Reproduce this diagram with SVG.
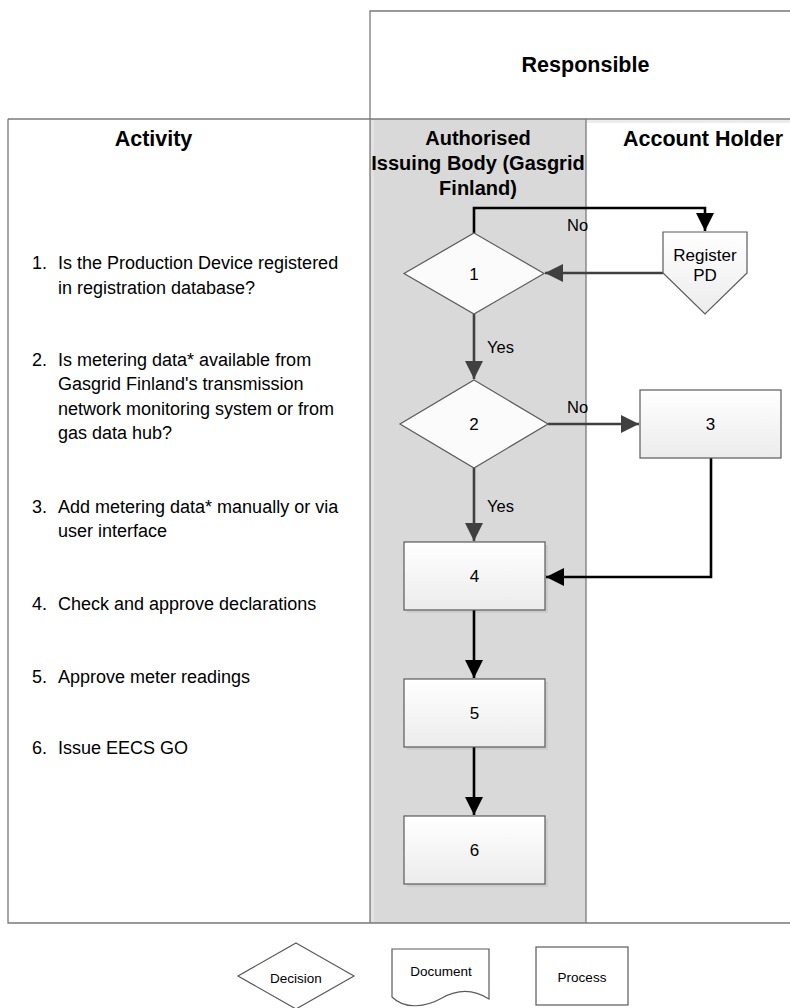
<svg xmlns="http://www.w3.org/2000/svg" width="790" height="1008" viewBox="0 0 790 1008">
<style>
text{font-family:"Liberation Sans",Arial,sans-serif;fill:#000}
.hd{font-size:21.5px;font-weight:bold}
.act{font-size:18px}
.nl{font-size:17px}
.lb{font-size:16.5px}
.lg{font-size:13.5px}
.frame{stroke:#7a7a7a;stroke-width:1.3;fill:none}
.shape{stroke:#5a5a5a;stroke-width:1.2}
.sh{fill:#000;opacity:0.06}
.cb{stroke:#000;stroke-width:2.6;fill:none}
.cg{stroke:#404040;stroke-width:2.6;fill:none}
</style>
<defs>
<linearGradient id="gr" x1="0" y1="0" x2="0" y2="1">
<stop offset="0" stop-color="#ffffff"/>
<stop offset="1" stop-color="#ececec"/>
</linearGradient>
<marker id="ab" viewBox="0 0 18 18" markerWidth="18" markerHeight="18" refX="18" refY="9" orient="auto" markerUnits="userSpaceOnUse">
<path d="M0,0 L18,9 L0,18 Z" fill="#000"/>
</marker>
<marker id="ag" viewBox="0 0 18 18" markerWidth="18" markerHeight="18" refX="18" refY="9" orient="auto" markerUnits="userSpaceOnUse">
<path d="M0,0 L18,9 L0,18 Z" fill="#404040"/>
</marker>
</defs>
<rect width="790" height="1008" fill="#ffffff"/>

<g id="lanes">
<rect x="370" y="119" width="216" height="804" fill="#d9d9d9"/>
<rect x="371" y="120" width="3" height="802" fill="#e3e3e3"/>
<rect x="587" y="120" width="203" height="3" fill="#ececec"/>
<path class="frame" d="M370,923 V11 H790"/>
<path class="frame" d="M8,119 H790"/>
<path class="frame" d="M8,119 V923 H790"/>
<path class="frame" d="M586,119 V923"/>
<text class="hd" x="585.5" y="72" text-anchor="middle">Responsible</text>
<text class="hd" x="153.5" y="146" text-anchor="middle">Activity</text>
<text class="hd" x="703" y="146" text-anchor="middle">Account Holder</text>
<text class="hd" x="478" y="145" text-anchor="middle" style="font-size:20px">Authorised</text>
<text class="hd" x="478" y="170" text-anchor="middle" style="font-size:20px">Issuing Body (Gasgrid</text>
<text class="hd" x="478" y="195" text-anchor="middle" style="font-size:20px">Finland)</text>
</g>

<g id="activities">
<text class="act" x="32" y="269">1.</text>
<text class="act" x="58" y="269">Is the Production Device registered</text>
<text class="act" x="58" y="294">in registration database?</text>
<text class="act" x="32" y="366">2.</text>
<text class="act" x="58" y="366">Is metering data* available from</text>
<text class="act" x="58" y="390">Gasgrid Finland's transmission</text>
<text class="act" x="58" y="415">network monitoring system or from</text>
<text class="act" x="58" y="439">gas data hub?</text>
<text class="act" x="32" y="513">3.</text>
<text class="act" x="58" y="513">Add metering data* manually or via</text>
<text class="act" x="58" y="537">user interface</text>
<text class="act" x="32" y="610">4.</text>
<text class="act" x="58" y="610">Check and approve declarations</text>
<text class="act" x="32" y="683">5.</text>
<text class="act" x="58" y="683">Approve meter readings</text>
<text class="act" x="32" y="754">6.</text>
<text class="act" x="58" y="754">Issue EECS GO</text>
</g>

<g id="connectors">
<path class="cb" d="M474,233 V208 H705 V231" marker-end="url(#ab)"/>
<path class="cg" d="M663,273 H545" marker-end="url(#ag)"/>
<path class="cg" d="M474,314 V379" marker-end="url(#ag)"/>
<path class="cg" d="M548,424 H639" marker-end="url(#ag)"/>
<path class="cg" d="M474,468 V541" marker-end="url(#ag)"/>
<path class="cb" d="M711,458 V577 H546" marker-end="url(#ab)"/>
<path class="cb" d="M474,610 V678" marker-end="url(#ab)"/>
<path class="cb" d="M474,747 V815" marker-end="url(#ab)"/>
<text class="lb" x="567" y="231">No</text>
<text class="lb" x="487" y="353">Yes</text>
<text class="lb" x="567" y="413">No</text>
<text class="lb" x="487" y="512">Yes</text>
</g>

<g id="node1">
<polygon class="shape" points="474,233 544,273.5 474,314 404,273.5" fill="#fbfbfb"/>
<text class="nl" x="474" y="280" text-anchor="middle">1</text>
</g>

<g id="registerPD">
<polygon class="shape" points="663,232 747,232 747,273 705,314 663,273" fill="url(#gr)"/>
<text class="nl" x="705" y="261" text-anchor="middle">Register</text>
<text class="nl" x="705" y="281" text-anchor="middle">PD</text>
</g>

<g id="node2">
<polygon class="shape" points="474,380 548,424 474,468 400,424" fill="#fbfbfb"/>
<text class="nl" x="474" y="430" text-anchor="middle">2</text>
</g>

<g id="node3">
<rect class="shape" x="640" y="390" width="141" height="68" fill="url(#gr)"/>
<text class="nl" x="710.5" y="430" text-anchor="middle">3</text>
</g>

<g id="node4">
<rect class="sh" x="407" y="545" width="141" height="68"/>
<rect class="shape" x="404" y="542" width="141" height="68" fill="url(#gr)"/>
<text class="nl" x="474.5" y="582" text-anchor="middle">4</text>
</g>

<g id="node5">
<rect class="sh" x="407" y="682" width="141" height="68"/>
<rect class="shape" x="404" y="679" width="141" height="68" fill="url(#gr)"/>
<text class="nl" x="474.5" y="719" text-anchor="middle">5</text>
</g>

<g id="node6">
<rect class="sh" x="407" y="819" width="141" height="68"/>
<rect class="shape" x="404" y="816" width="141" height="68" fill="url(#gr)"/>
<text class="nl" x="474.5" y="856" text-anchor="middle">6</text>
</g>

<g id="legend-decision">
<polygon class="shape" points="296,943 354,976 296,1009 238,976" fill="#ffffff"/>
<text class="lg" x="296" y="983" text-anchor="middle">Decision</text>
</g>
<g id="legend-document">
<path class="shape" d="M392,949 H489 V999 C472,988 456,990 442,998 C426,1007 405,1010 392,997 Z" fill="#ffffff"/>
<text class="lg" x="441" y="976" text-anchor="middle">Document</text>
</g>
<g id="legend-process">
<rect class="shape" x="536" y="947" width="92" height="58" fill="#ffffff"/>
<text class="lg" x="582" y="982" text-anchor="middle">Process</text>
</g>
</svg>
